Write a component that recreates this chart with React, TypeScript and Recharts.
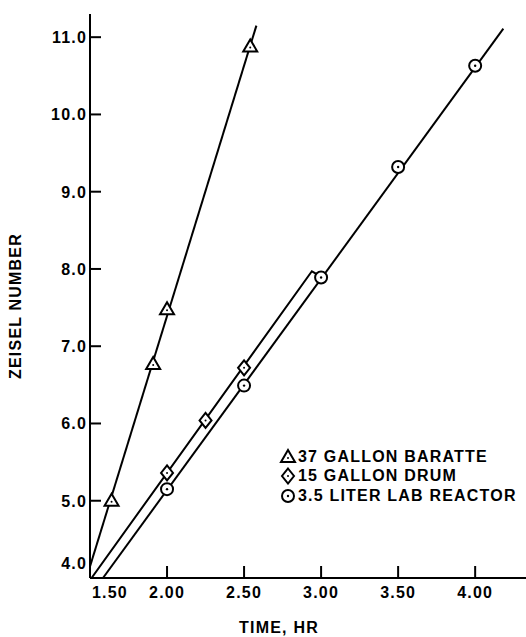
import React from 'react';
import { ScatterChart, Scatter, XAxis, YAxis, Legend, Label } from 'recharts';

// ---- tick labels ----
const xTicks = [1.5, 2.0, 2.5, 3.0, 3.5, 4.0];
const xTickLabels = ['1.50', '2.00', '2.50', '3.00', '3.50', '4.00'];
const yTicks = [4, 5, 6, 7, 8, 9, 10, 11];
const yTickLabels = ['4.0', '5.0', '6.0', '7.0', '8.0', '9.0', '10.0', '11.0'];

// ---- series names ----
const seriesNames = ['37 GALLON BARATTE', '15 GALLON DRUM', '3.5 LITER LAB REACTOR'];

// ---- measured points ----
const barattTime = [1.64, 1.91, 2.0, 2.54];
const barattZeisel = [5.0, 6.77, 7.48, 10.88];

const drumTime = [2.0, 2.25, 2.5];
const drumZeisel = [5.36, 6.04, 6.72];

const labTime = [2.0, 2.5, 3.0, 3.5, 4.0];
const labZeisel = [5.15, 6.49, 7.89, 9.32, 10.63];

// ---- fitted lines ----
const barattFitTime = [1.5, 2.58];
const barattFitZeisel = [4.15, 11.15];

const drumFitTime = [1.51, 2.94, 2.975];
const drumFitZeisel = [4.0, 7.97, 7.93];

const labFitTime = [1.584, 4.183];
const labFitZeisel = [4.0, 11.11];

const zip = (xs: number[], ys: number[]) => xs.map((x, i) => ({ x, y: ys[i] }));

const FONT = '"Liberation Sans", Arial, Helvetica, sans-serif';
const TICK_COLOR = '#000';

const triangle = (cx: number, cy: number) => (
  <g>
    <polygon
      points={`${cx},${cy - 7} ${cx + 7},${cy + 5} ${cx - 7},${cy + 5}`}
      fill="#fff"
      stroke="#000"
      strokeWidth={2}
    />
    <circle cx={cx} cy={cy + 1} r={1} fill="#000" />
  </g>
);

const diamond = (cx: number, cy: number) => (
  <g>
    <polygon
      points={`${cx},${cy - 7.5} ${cx + 6},${cy} ${cx},${cy + 7.5} ${cx - 6},${cy}`}
      fill="#fff"
      stroke="#000"
      strokeWidth={2}
    />
    <circle cx={cx} cy={cy} r={1} fill="#000" />
  </g>
);

const circleMark = (cx: number, cy: number) => (
  <g>
    <circle cx={cx} cy={cy} r={6} fill="#fff" stroke="#000" strokeWidth={2} />
    <circle cx={cx} cy={cy} r={1.2} fill="#000" />
  </g>
);

const markers = [triangle, diamond, circleMark];

const XTick = (props: any) => {
  const { x, y, payload } = props;
  const px = Number(x);
  const py = Number(y);
  const idx = xTicks.indexOf(payload.value);
  const first = idx === 0;
  return (
    <g>
      {!first && (
        <path d={`M${px},${py}L${px},${py - 12}`} stroke={TICK_COLOR} strokeWidth={2} fill="none" />
      )}
      <text
        x={first ? px + 20 : px}
        y={py + 20}
        textAnchor="middle"
        fontFamily={FONT}
        fontWeight="bold"
        fontSize={16}
        letterSpacing={1.2}
        fill="#000"
      >
        {xTickLabels[idx]}
      </text>
    </g>
  );
};

const YTick = (props: any) => {
  const { x, y, payload } = props;
  const px = Number(x);
  const py = Number(y);
  const idx = yTicks.indexOf(payload.value);
  const first = idx === 0;
  return (
    <g>
      {!first && (
        <path d={`M${px + 4},${py}L${px + 15},${py}`} stroke={TICK_COLOR} strokeWidth={2} fill="none" />
      )}
      <text
        x={px + 1}
        y={(first ? py - 15 : py) + 6}
        textAnchor="end"
        fontFamily={FONT}
        fontWeight="bold"
        fontSize={16}
        letterSpacing={1.2}
        fill="#000"
      >
        {yTickLabels[idx]}
      </text>
    </g>
  );
};

const renderLegend = () => (
  <div
    style={{
      fontFamily: FONT,
      fontWeight: 'bold',
      fontSize: 16,
      letterSpacing: 1.2,
      color: '#000',
    }}
  >
    {seriesNames.map((name, i) => (
      <div key={name} style={{ display: 'flex', alignItems: 'center', height: 19.5, whiteSpace: 'nowrap' }}>
        <svg width={18} height={18} style={{ display: 'block' }}>
          {markers[i](9, 9)}
        </svg>
        <span style={{ marginLeft: 1 }}>{name}</span>
      </div>
    ))}
  </div>
);

const none = () => <g />;

export default function App() {
  return (
    <div style={{ position: 'absolute', left: 0, top: 0, background: '#fff' }}>
      <ScatterChart width={526} height={637} margin={{ top: 14, right: 0, bottom: 0, left: 0 }}>
        <XAxis
          type="number"
          dataKey="x"
          domain={[1.5, 4.33]}
          ticks={xTicks}
          interval={0}
          allowDataOverflow
          height={59}
          tickSize={0}
          tickMargin={0}
          axisLine={{ stroke: '#000', strokeWidth: 2 }}
          tickLine={false}
          tick={(p: any) => <XTick {...p} />}
        >
          <Label
            content={() => (
              <text
                x={279}
                y={633}
                textAnchor="middle"
                fontFamily={FONT}
                fontWeight="bold"
                fontSize={16}
                letterSpacing={1.2}
                fill="#000"
              >
                TIME, HR
              </text>
            )}
          />
        </XAxis>
        <YAxis
          type="number"
          dataKey="y"
          domain={[4, 11.3]}
          ticks={yTicks}
          interval={0}
          allowDataOverflow
          width={90}
          tickSize={0}
          tickMargin={4}
          axisLine={{ stroke: '#000', strokeWidth: 2 }}
          tickLine={false}
          tick={(p: any) => <YTick {...p} />}
        >
          <Label
            content={() => (
              <text
                x={21}
                y={306}
                transform="rotate(-90, 21, 306)"
                textAnchor="middle"
                fontFamily={FONT}
                fontWeight="bold"
                fontSize={16}
                letterSpacing={1.2}
                fill="#000"
              >
                ZEISEL NUMBER
              </text>
            )}
          />
        </YAxis>
        <Legend
          layout="vertical"
          align="center"
          verticalAlign="middle"
          content={renderLegend}
          wrapperStyle={{ position: 'absolute', left: 279, top: 447, width: 245, height: 'auto' }}
        />
        <Scatter
          name="fit1"
          data={zip(barattFitTime, barattFitZeisel)}
          line={{ stroke: '#000', strokeWidth: 2 }}
          lineType="joint"
          shape={none}
          fill="#000"
          isAnimationActive={false}
          legendType="none"
        />
        <Scatter
          name="fit2"
          data={zip(drumFitTime, drumFitZeisel)}
          line={{ stroke: '#000', strokeWidth: 2 }}
          lineType="joint"
          shape={none}
          fill="#000"
          isAnimationActive={false}
          legendType="none"
        />
        <Scatter
          name="fit3"
          data={zip(labFitTime, labFitZeisel)}
          line={{ stroke: '#000', strokeWidth: 2 }}
          lineType="joint"
          shape={none}
          fill="#000"
          isAnimationActive={false}
          legendType="none"
        />
        <Scatter
          name={seriesNames[0]}
          data={zip(barattTime, barattZeisel)}
          shape={(p: any) => triangle(p.cx, p.cy)}
          isAnimationActive={false}
        />
        <Scatter
          name={seriesNames[1]}
          data={zip(drumTime, drumZeisel)}
          shape={(p: any) => diamond(p.cx, p.cy)}
          isAnimationActive={false}
        />
        <Scatter
          name={seriesNames[2]}
          data={zip(labTime, labZeisel)}
          shape={(p: any) => circleMark(p.cx, p.cy)}
          isAnimationActive={false}
        />
      </ScatterChart>
    </div>
  );
}
